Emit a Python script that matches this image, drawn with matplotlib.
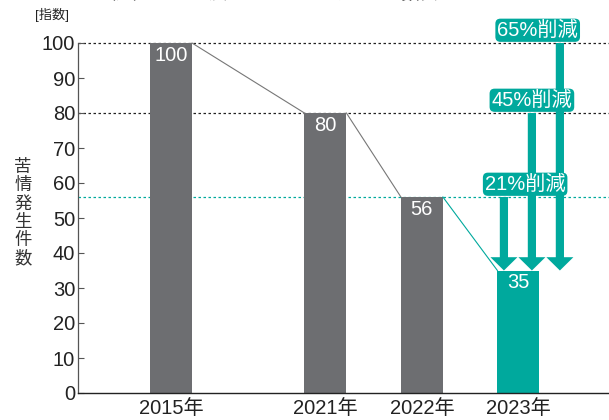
import matplotlib
matplotlib.use("Agg")
import matplotlib.pyplot as plt
from matplotlib.patches import FancyArrow

# data
years = ["2015年", "2021年", "2022年", "2023年"]
values = [100, 80, 56, 35]
reductions = [21, 45, 65]          # points of decrease vs 2022, 2021, 2015
ref_values = [56, 80, 100]         # where each reduction arrow starts
y_ticks = list(range(0, 101, 10))
y_label = "苦情発生件数"
note = "（注）2015年度を100とした場合の指数表示となっています。"

# layout (not data)
x_pos = [0, 1.6, 2.6, 3.6]
arrow_x = [3.45, 3.74, 4.03]
box_x = [3.67, 3.74, 3.80]

GRAY = "#6d6e71"
TEAL = "#00a99d"
TXT = "#222222"
FS = 14.5
plt.rcParams["font.family"] = ["Liberation Sans", "Noto Sans CJK JP", "DejaVu Sans"]

fig = plt.figure(figsize=(6.09, 4.2), dpi=100)
ax = fig.add_axes([78 / 609, 27 / 420, 1 - 78 / 609, (393 - 15) / 420])

w = 0.435
colors = [GRAY, GRAY, GRAY, TEAL]
ax.bar(x_pos, values, width=w, color=colors, zorder=2)

# value labels inside bars
for x, v in zip(x_pos, values):
    ax.annotate(str(v), (x, v), xytext=(0, -2), textcoords="offset points",
                ha="center", va="top", color="white", fontsize=FS, zorder=5)

# reference dotted lines
ax.axhline(100, color=TXT, ls=(0, (2, 2)), lw=0.9, zorder=1)
ax.axhline(80, color=TXT, ls=(0, (2, 2)), lw=0.9, zorder=1)
ax.axhline(56, color=TEAL, ls=(0, (2, 2)), lw=0.9, zorder=1)

# connecting lines between bar tops
for i in range(len(x_pos) - 1):
    c = TEAL if i == len(x_pos) - 2 else "#777777"
    ax.plot([x_pos[i] + w / 2, x_pos[i + 1] - w / 2], [values[i], values[i + 1]],
            color=c, lw=0.8, zorder=3)

# reduction arrows
tip = values[-1]
for ax_x, start in zip(arrow_x, ref_values):
    arr = FancyArrow(ax_x, start, 0, tip - start, width=0.085, head_width=0.28,
                     head_length=3.8, length_includes_head=True,
                     color=TEAL, lw=0, zorder=4)
    ax.add_patch(arr)

for bx, r, start in zip(box_x, reductions, ref_values):
    ax.text(bx, start + 0.9, f"{r}%削減", ha="center", va="bottom", color="white",
            fontsize=FS, zorder=6,
            bbox=dict(boxstyle="round,pad=0.1,rounding_size=0.25", fc=TEAL, ec="none"))

ax.set_xlim(-0.964, 4.539)
ax.set_ylim(0, 108)
ax.set_xticks(x_pos)
ax.set_xticklabels(years, fontsize=FS, color=TXT)
ax.set_yticks(y_ticks)
ax.set_yticklabels([str(t) for t in y_ticks], fontsize=FS, color=TXT)
ax.tick_params(axis="x", length=0, pad=4)
ax.tick_params(axis="y", direction="in", length=4, width=0.8, pad=2, colors="#555555",
               labelcolor=TXT)
for s in ["top", "right"]:
    ax.spines[s].set_visible(False)
ax.spines["left"].set_bounds(0, 100)
ax.spines["left"].set_color("#555555")
ax.spines["left"].set_linewidth(0.9)
ax.spines["bottom"].set_linewidth(1.0)
ax.spines["bottom"].set_color(TXT)

fig.text(35 / 609, 1 - 15 / 420, "[指数]", fontsize=9.5, va="center", ha="left", color=TXT)
# vertical axis title, one character per row
for i, ch in enumerate(y_label):
    fig.text(23 / 609, 1 - (167 + i * 18.2) / 420, ch, fontsize=12.5, va="center",
             ha="center", color="#333333")
fig.text(97 / 609, 1 + 6 / 420, note, fontsize=13, va="center", ha="left", color=TXT)

fig.savefig("out.png", dpi=100)
